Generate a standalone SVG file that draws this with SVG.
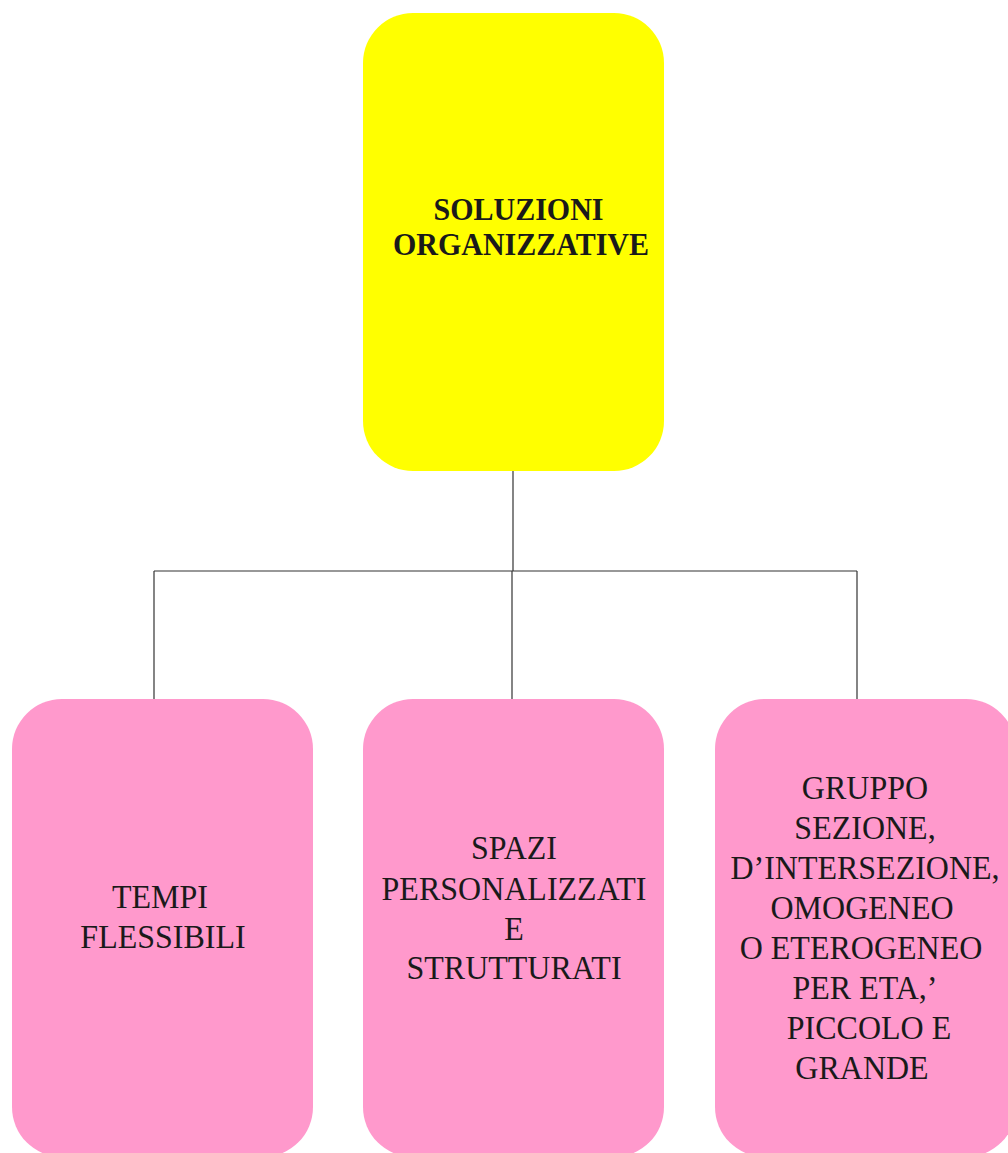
<svg xmlns="http://www.w3.org/2000/svg" width="1008" height="1153" viewBox="0 0 1008 1153">
<style>
.box{stroke:none}
.yellow{fill:#FFFF00}
.pink{fill:#FF99CC}
.t{font-family:"Liberation Serif","Times New Roman",serif;font-size:32px;fill:#1a1a1a;text-anchor:middle}
.tb{font-family:"Liberation Serif","Times New Roman",serif;font-size:30px;font-weight:bold;fill:#1a1a1a;text-anchor:middle}
.conn{fill:none;stroke:#333333;stroke-width:1.2}
</style>
<rect width="1008" height="1153" fill="#ffffff"/>
<g id="connectors">
<path class="conn" d="M513,471 V571"/>
<path class="conn" d="M154,571 H857"/>
<path class="conn" d="M154,571 V699"/>
<path class="conn" d="M512,571 V699"/>
<path class="conn" d="M857,571 V699"/>
</g>
<g id="node-soluzioni">
<rect class="box yellow" x="363" y="13" width="301" height="458" rx="50" ry="50"/>
<text class="tb" transform="translate(518.5,220) scale(1,1.04)">SOLUZIONI</text>
<text class="tb" transform="translate(521,255) scale(1,1.04)">ORGANIZZATIVE</text>
</g>
<g id="node-tempi">
<rect class="box pink" x="12" y="699" width="301" height="458" rx="50" ry="50"/>
<text class="t" transform="translate(160,908) scale(1,1.06)">TEMPI</text>
<text class="t" transform="translate(163,948) scale(1,1.06)">FLESSIBILI</text>
</g>
<g id="node-spazi">
<rect class="box pink" x="363" y="699" width="301" height="458" rx="50" ry="50"/>
<text class="t" transform="translate(514,859) scale(1,1.06)">SPAZI</text>
<text class="t" transform="translate(514,900) scale(1,1.06)">PERSONALIZZATI</text>
<text class="t" transform="translate(514,940) scale(1,1.06)">E</text>
<text class="t" transform="translate(514,979) scale(1,1.06)">STRUTTURATI</text>
</g>
<g id="node-gruppo">
<rect class="box pink" x="715" y="699" width="301" height="458" rx="50" ry="50"/>
<text class="t" transform="translate(865,799) scale(1,1.06)">GRUPPO</text>
<text class="t" transform="translate(865,839) scale(1,1.06)">SEZIONE,</text>
<text class="t" transform="translate(865,879) scale(1,1.06)">D’INTERSEZIONE,</text>
<text class="t" transform="translate(862,919) scale(1,1.06)">OMOGENEO</text>
<text class="t" transform="translate(861,959) scale(1,1.06)">O ETEROGENEO</text>
<text class="t" transform="translate(865,999) scale(1,1.06)">PER ETA,’</text>
<text class="t" transform="translate(869,1039) scale(1,1.06)">PICCOLO E</text>
<text class="t" transform="translate(862,1079) scale(1,1.06)">GRANDE</text>
</g>
</svg>
